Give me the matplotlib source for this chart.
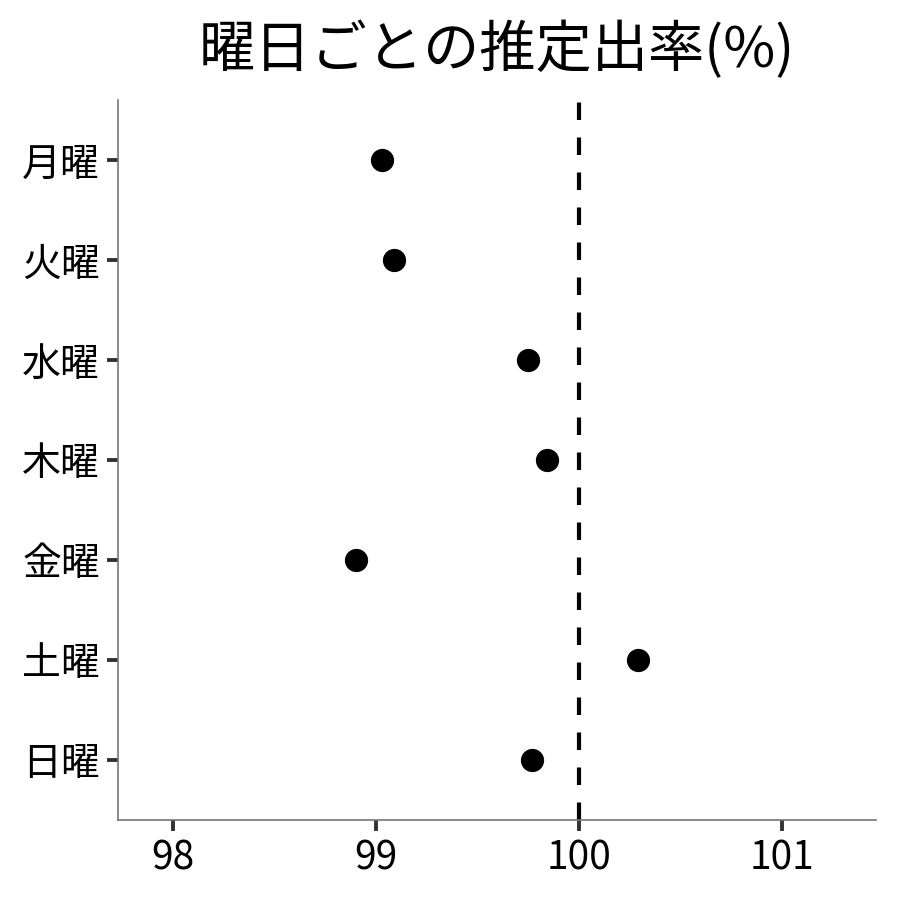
import matplotlib
matplotlib.use('Agg')
import matplotlib.pyplot as plt

plt.rcParams['font.family'] = ['Noto Sans CJK JP', 'DejaVu Sans']

# data (top to bottom)
days = ['月曜', '火曜', '水曜', '木曜', '金曜', '土曜', '日曜']
rates = [99.03, 99.09, 99.75, 99.84, 98.90, 100.29, 99.77]
xticks = [98, 99, 100, 101]

fig = plt.figure(figsize=(9, 9), dpi=100)
ax = fig.add_axes([0.131, 0.0889, 0.842, 0.8])

ypos = list(range(len(days), 0, -1))
ax.scatter(rates, ypos, s=280, color='black', zorder=3, linewidths=0)
ax.axvline(100, color='black', linewidth=3, dashes=(4.2, 4.2), zorder=2)

ax.set_xlim(97.73, 101.46)
ax.set_ylim(0.4, 7.6)
ax.set_yticks(ypos)
ax.set_yticklabels(days)
ax.set_xticks(xticks)
ax.set_xticklabels([str(t) for t in xticks])

for side in ['top', 'right']:
    ax.spines[side].set_visible(False)
for side in ['left', 'bottom']:
    ax.spines[side].set_color('#777777')
    ax.spines[side].set_linewidth(1.2)

ax.tick_params(axis='both', length=8, width=2.8, color='#333333',
               labelsize=28, labelcolor='black', pad=5)

ax.set_title('曜日ごとの推定出率(%)', fontsize=40.5, pad=24)

fig.savefig('out.png', dpi=100)
plt.close(fig)
